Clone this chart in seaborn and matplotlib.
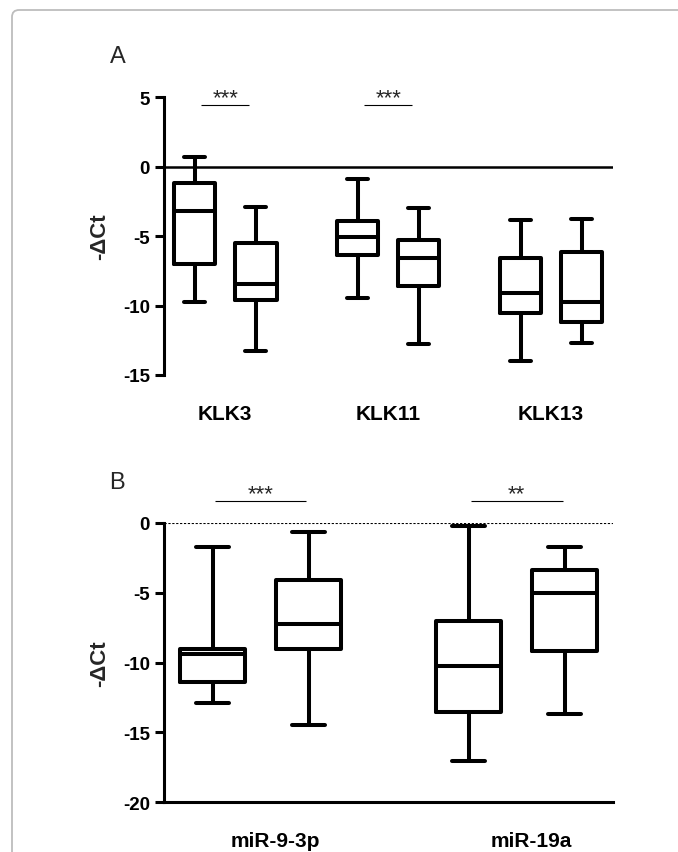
import numpy as np
import pandas as pd
import matplotlib
matplotlib.use("Agg")
import matplotlib.pyplot as plt
import matplotlib.transforms as mtransforms
from matplotlib.patches import FancyBboxPatch
import seaborn as sns

# ---------------- data (five-number summaries) ----------------
groups = ["Group 1", "Group 2"]

klk_genes = ["KLK3", "KLK11", "KLK13"]
klk_g1_max = [0.65, -0.89, -3.84]
klk_g1_q3 = [-1.20, -3.89, -6.60]
klk_g1_med = [-3.22, -5.09, -9.12]
klk_g1_q1 = [-7.01, -6.34, -10.56]
klk_g1_min = [-9.72, -9.46, -14.02]
klk_g2_max = [-2.88, -3.00, -3.77]
klk_g2_q3 = [-5.52, -5.26, -6.17]
klk_g2_med = [-8.45, -6.58, -9.77]
klk_g2_q1 = [-9.60, -8.57, -11.21]
klk_g2_min = [-13.25, -12.77, -12.70]
klk_stars = ["***", "***", ""]

mir_names = ["miR-9-3p", "miR-19a"]
mir_g1_max = [-1.74, -0.24]
mir_g1_q3 = [-9.05, -7.04]
mir_g1_med = [-9.36, -10.21]
mir_g1_q1 = [-11.41, -13.56]
mir_g1_min = [-12.91, -17.02]
mir_g2_max = [-0.62, -1.74]
mir_g2_q3 = [-4.08, -3.37]
mir_g2_med = [-7.23, -5.04]
mir_g2_q1 = [-9.02, -9.14]
mir_g2_min = [-14.44, -13.68]
mir_stars = ["***", "**"]

yticks_A = [5, 0, -5, -10, -15]
yticks_B = [0, -5, -10, -15, -20]


def long_table(names, g1, g2):
    rows = []
    for gname, stats in zip(groups, (g1, g2)):
        for i, n in enumerate(names):
            for arr in stats:
                rows.append({"target": n, "group": gname, "value": arr[i]})
    return pd.DataFrame(rows)


df_A = long_table(
    klk_genes,
    (klk_g1_min, klk_g1_q1, klk_g1_med, klk_g1_q3, klk_g1_max),
    (klk_g2_min, klk_g2_q1, klk_g2_med, klk_g2_q3, klk_g2_max),
)
df_B = long_table(
    mir_names,
    (mir_g1_min, mir_g1_q1, mir_g1_med, mir_g1_q3, mir_g1_max),
    (mir_g2_min, mir_g2_q1, mir_g2_med, mir_g2_q3, mir_g2_max),
)

# ---------------- style ----------------
sns.set_theme(style="ticks")
plt.rcParams["font.family"] = ["Liberation Sans", "DejaVu Sans"]
plt.rcParams["axes.unicode_minus"] = False

W, H, DPI = 678, 853, 100
fig = plt.figure(figsize=(W / DPI, H / DPI), dpi=DPI)
fig.patch.set_facecolor("white")

# rounded light-grey frame
frame = FancyBboxPatch((12, -30), 720, 853 - 11 + 30,
                       boxstyle="round,pad=0,rounding_size=7",
                       transform=mtransforms.IdentityTransform(),
                       fill=False, ec="#bdbdbd", lw=1.3)
fig.patches.append(frame)

axA = fig.add_axes([164 / W, 1 - 376 / H, (613 - 164) / W, (376 - 98) / H])
axB = fig.add_axes([164 / W, 1 - 803.3 / H, (613 - 164) / W, (803.3 - 524) / H])

box_kw = dict(x="target", y="value", hue="group", hue_order=groups,
              palette=["black", "black"], fill=False, whis=(0, 100),
              width=0.75, gap=0.32, linewidth=2.9, legend=False)

sns.boxplot(data=df_A, order=klk_genes, ax=axA, **box_kw)
sns.boxplot(data=df_B, order=mir_names, ax=axB, **box_kw)

# ---- panel A axes ----
axA.set_xlim(-0.376, 2.38)
axA.set_ylim(-15, 5)
axA.axhline(0, color="black", lw=1.8, zorder=1)
for s in ["top", "right", "bottom"]:
    axA.spines[s].set_visible(False)

# ---- panel B axes ----
axB.set_xlim(-0.3775, 1.376)
axB.set_ylim(-20, 0)
axB.axhline(0, color="black", lw=0.8, ls=(0, (2, 1.5)), zorder=1)
for s in ["top", "right"]:
    axB.spines[s].set_visible(False)

for ax, ticks in ((axA, yticks_A), (axB, yticks_B)):
    ax.set_yticks(ticks)
    ax.set_yticklabels([str(t) for t in ticks])
    for s in ["left", "bottom"]:
        ax.spines[s].set_linewidth(2.2)
        ax.spines[s].set_color("black")
    ax.tick_params(axis="y", length=6.5, width=2.2, pad=3.5, labelsize=13.5,
                   colors="black")
    ax.tick_params(axis="x", length=0, pad=21, labelsize=15, colors="black")
    for lbl in ax.get_yticklabels() + ax.get_xticklabels():
        lbl.set_fontweight("bold")
    ax.set_xlabel("")
    ax.set_ylabel("-\u0394Ct", fontsize=16, fontweight="bold", labelpad=9)
    ax.set_facecolor("none")
    ax.grid(False)

# shift B category labels slightly to the right, as in the original
offB = mtransforms.ScaledTranslation(15 / DPI, 0, fig.dpi_scale_trans)
for lbl in axB.get_xticklabels():
    lbl.set_transform(lbl.get_transform() + offB)

# ---- significance bars ----
def sig(ax, stars, bar_y, half):
    for i, st in enumerate(stars):
        if not st:
            continue
        ax.plot([i - half, i + half], [bar_y, bar_y], color="black", lw=0.8,
                clip_on=False, solid_capstyle="butt")
        ax.annotate(st, xy=(i, bar_y), xytext=(0, 1.5), textcoords="offset points",
                    ha="center", va="baseline", fontsize=16, annotation_clip=False)

sig(axA, klk_stars, 4.39, 0.148)
sig(axB, mir_stars, 1.55, 0.179)

# panel letters
fig.text(117.8 / W, 1 - 56.7 / H, "A", fontsize=17, ha="center", va="center")
fig.text(116.5 / W, 1 - 483 / H, "B", fontsize=17, ha="center", va="center")

fig.savefig("out.png", dpi=DPI, facecolor="white")
